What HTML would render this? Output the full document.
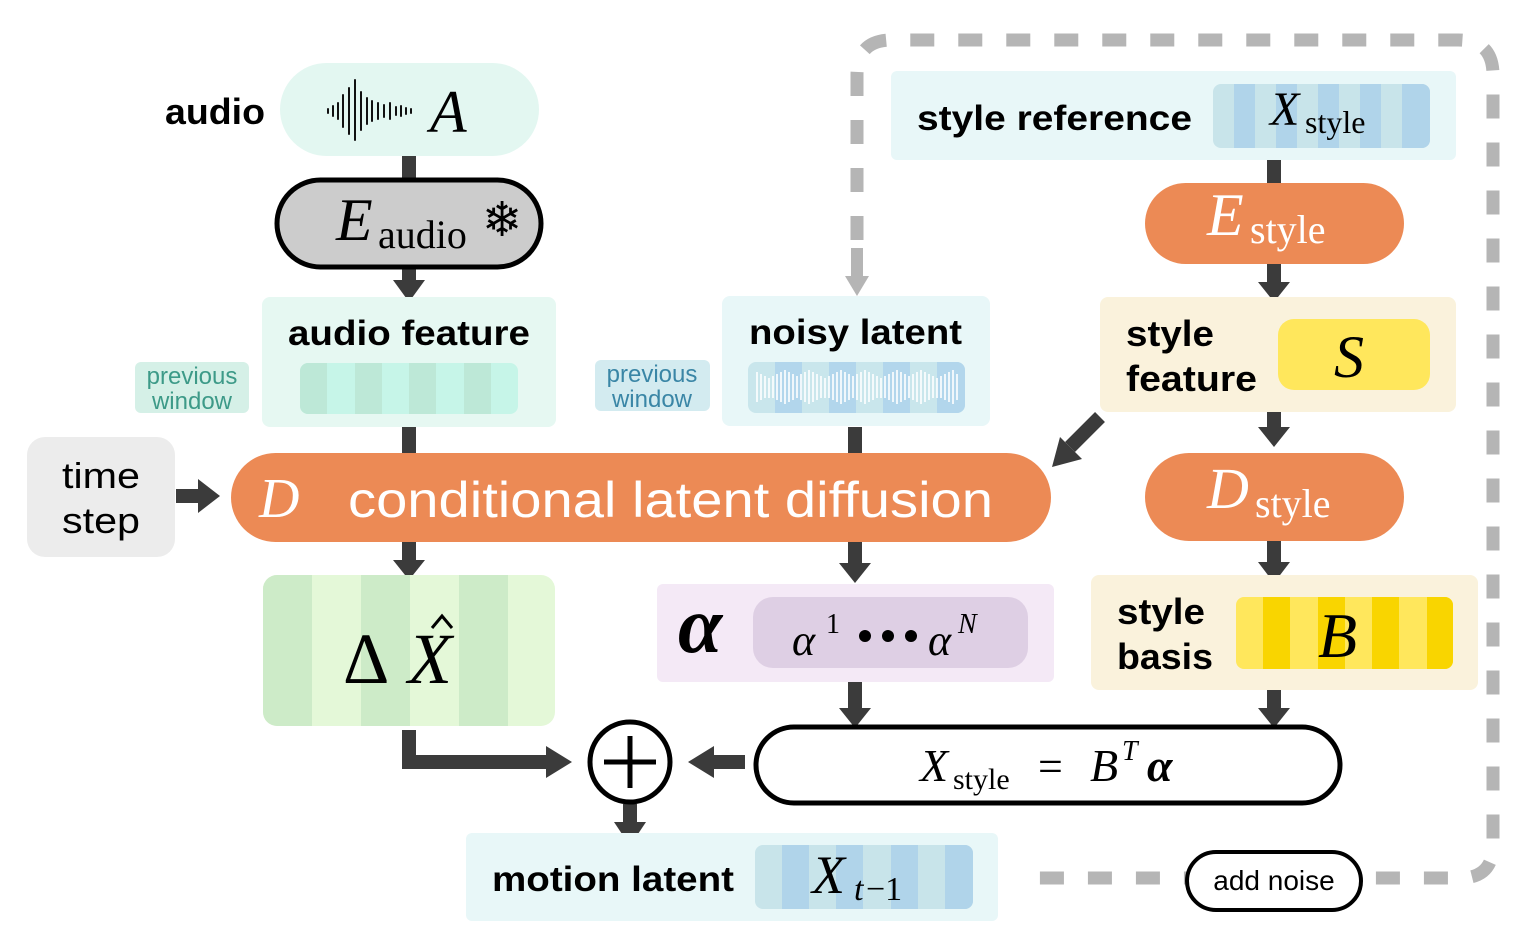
<!DOCTYPE html>
<html><head><meta charset="utf-8"><style>
html,body{margin:0;padding:0;background:#fff}
svg{display:block}
.s{font-family:"Liberation Sans","DejaVu Sans",sans-serif;font-weight:bold}
.n{font-family:"Liberation Sans","DejaVu Sans",sans-serif}
.m{font-family:"Liberation Serif","DejaVu Serif",serif;font-style:italic}
.r{font-family:"Liberation Serif","DejaVu Serif",serif}
</style></head><body>
<svg width="1517" height="925" viewBox="0 0 1517 925" xmlns="http://www.w3.org/2000/svg">
<!-- dashed border -->
<path d="M857,240 L857,75 Q857,40 892,40 L1458,40 Q1493,40 1493,75 L1493,845 Q1493,878 1460,878 L1020,878" fill="none" stroke="#b5b5b5" stroke-width="13" stroke-dasharray="24,24"/>
<path d="M857,248 L857,278" stroke="#b5b5b5" stroke-width="12"/>
<path d="M845,276 L869,276 L857,296 z" fill="#b5b5b5"/>

<!-- connectors -->
<g stroke="#3b3b3b" stroke-width="14" fill="none">
<line x1="409" y1="156" x2="409" y2="180"/>
<line x1="409" y1="268" x2="409" y2="282"/>
<line x1="409" y1="426" x2="409" y2="455"/>
<line x1="409" y1="542" x2="409" y2="563"/>
<line x1="855" y1="427" x2="855" y2="455"/>
<line x1="855" y1="542" x2="855" y2="566"/>
<line x1="1274" y1="158" x2="1274" y2="185"/>
<line x1="1274" y1="264" x2="1274" y2="284"/>
<line x1="1274" y1="412" x2="1274" y2="430"/>
<line x1="1274" y1="540" x2="1274" y2="565"/>
<line x1="855" y1="682" x2="855" y2="712"/>
<line x1="1274" y1="690" x2="1274" y2="712"/>
<path d="M409,730 L409,762 L548,762"/>
<line x1="745" y1="762" x2="712" y2="762"/>
<line x1="630" y1="804" x2="630" y2="825"/>
<line x1="176" y1="496" x2="200" y2="496"/>
<line x1="1100" y1="417" x2="1070" y2="447"/>
</g>
<g fill="#3b3b3b">
<path d="M393,280 L425,280 L409,302 z"/>
<path d="M393,560 L425,560 L409,580 z"/>
<path d="M839,563 L871,563 L855,583 z"/>
<path d="M1258,282 L1290,282 L1274,302 z"/>
<path d="M1258,427 L1290,427 L1274,447 z"/>
<path d="M1258,562 L1290,562 L1274,583 z"/>
<path d="M839,708 L871,708 L855,728 z"/>
<path d="M1258,708 L1290,708 L1274,728 z"/>
<path d="M546,746 L546,778 L572,762 z"/>
<path d="M714,746 L714,778 L688,762 z"/>
<path d="M614,822 L646,822 L630,846 z"/>
<path d="M198,479 L198,513 L220,496 z"/>
<path d="M1052,467 L1060,437 L1082,459 z"/>
</g>

<!-- audio -->
<text x="165" y="124" class="s" font-size="36" textLength="100" lengthAdjust="spacingAndGlyphs">audio</text>
<rect x="280" y="63" width="259" height="93" rx="46.5" fill="#e3f7f1"/>
<g stroke="#111" stroke-width="2" stroke-linecap="round">
<line x1="328" y1="109" x2="328" y2="113"/><line x1="333" y1="106" x2="333" y2="116"/><line x1="338" y1="103" x2="338" y2="119"/><line x1="343" y1="95" x2="343" y2="127"/><line x1="349" y1="88" x2="349" y2="134"/><line x1="355" y1="80" x2="355" y2="140"/><line x1="361" y1="92" x2="361" y2="130"/><line x1="367" y1="98" x2="367" y2="124"/><line x1="372" y1="101" x2="372" y2="121"/><line x1="378" y1="103" x2="378" y2="119"/><line x1="384" y1="105" x2="384" y2="117"/><line x1="390" y1="103" x2="390" y2="119"/><line x1="396" y1="107" x2="396" y2="115"/><line x1="401" y1="106" x2="401" y2="116"/><line x1="406" y1="108" x2="406" y2="114"/><line x1="411" y1="109" x2="411" y2="113"/>
</g>
<text x="430" y="132" class="m" font-size="60">A</text>

<!-- E audio -->
<rect x="277" y="180" width="264" height="87" rx="43.5" fill="#cccccc" stroke="#000" stroke-width="5"/>
<text x="336" y="240" class="m" font-size="60">E</text>
<text x="378" y="248" class="r" font-size="40">audio</text>
<text x="482" y="236" font-size="48" font-family="DejaVu Sans,sans-serif">❄</text>

<!-- audio feature -->
<rect x="262" y="297" width="294" height="130" rx="8" fill="#e6f8f2"/>
<text x="288" y="345" class="s" font-size="35" textLength="242" lengthAdjust="spacingAndGlyphs">audio feature</text>
<clipPath id="c1"><rect x="300" y="363" width="218" height="51" rx="8"/></clipPath>
<g clip-path="url(#c1)">
<rect x="300" y="363" width="218" height="51" fill="#c6f5e8"/>
<rect x="300" y="363" width="27" height="51" fill="#bde8d7"/><rect x="355" y="363" width="27" height="51" fill="#bde8d7"/><rect x="409" y="363" width="27" height="51" fill="#bde8d7"/><rect x="464" y="363" width="27" height="51" fill="#bde8d7"/>
</g>
<rect x="135" y="362" width="114" height="51" rx="6" fill="#d5f0e7"/>
<text x="192" y="384" class="n" font-size="24" fill="#3d9a88" text-anchor="middle">previous</text>
<text x="192" y="409" class="n" font-size="24" fill="#3d9a88" text-anchor="middle">window</text>

<!-- noisy latent -->
<rect x="722" y="296" width="268" height="130" rx="8" fill="#e8f7f8"/>
<text x="749" y="344" class="s" font-size="35" textLength="213" lengthAdjust="spacingAndGlyphs">noisy latent</text>
<clipPath id="c2"><rect x="748" y="362" width="217" height="51" rx="8"/></clipPath>
<g clip-path="url(#c2)">
<rect x="748" y="362" width="217" height="51" fill="#c9e6ec"/>
<rect x="775" y="362" width="27" height="51" fill="#b2d6ec"/><rect x="829" y="362" width="27" height="51" fill="#b2d6ec"/><rect x="883" y="362" width="27" height="51" fill="#b2d6ec"/><rect x="937" y="362" width="28" height="51" fill="#b2d6ec"/>
</g>
<path d="M757,372v30M761,374v26M765,376v22M769,378v20M773,376v22M777,374v26M781,372v30M785,370v34M789,372v30M793,374v26M797,376v22M801,374v26M805,372v30M809,370v34M813,372v30M817,374v26M821,376v22M825,378v20M829,376v22M833,374v26M837,372v30M841,370v34M845,372v30M849,374v26M853,376v22M857,374v26M861,372v30M865,370v34M869,372v30M873,374v26M877,376v22M881,378v20M885,376v22M889,374v26M893,372v30M897,370v34M901,372v30M905,374v26M909,376v22M913,374v26M917,372v30M921,370v34M925,372v30M929,374v26M933,376v22M937,378v20M941,376v22M945,374v26M949,372v30M953,370v34M957,374v26" stroke="#fff" stroke-width="1.6"/>
<rect x="595" y="360" width="115" height="51" rx="6" fill="#d3ebf0"/>
<text x="652" y="382" class="n" font-size="24" fill="#3a86a6" text-anchor="middle">previous</text>
<text x="652" y="407" class="n" font-size="24" fill="#3a86a6" text-anchor="middle">window</text>

<!-- time step -->
<rect x="27" y="437" width="148" height="120" rx="18" fill="#ececec"/>
<text x="62" y="488" class="n" font-size="36" textLength="78" lengthAdjust="spacingAndGlyphs">time</text>
<text x="62" y="533" class="n" font-size="36" textLength="78" lengthAdjust="spacingAndGlyphs">step</text>

<!-- D -->
<rect x="231" y="453" width="820" height="89" rx="44.5" fill="#ec8a55"/>
<text x="259" y="517" class="m" font-size="56" fill="#fff">D</text>
<text x="348" y="517" class="n" font-size="50" fill="#fff" textLength="645" lengthAdjust="spacingAndGlyphs">conditional latent diffusion</text>

<!-- delta X -->
<clipPath id="c3"><rect x="263" y="575" width="292" height="151" rx="14"/></clipPath>
<g clip-path="url(#c3)">
<rect x="263" y="575" width="292" height="151" fill="#e4f8d8"/>
<rect x="263" y="575" width="49" height="151" fill="#cdebc8"/><rect x="361" y="575" width="49" height="151" fill="#cdebc8"/><rect x="459" y="575" width="49" height="151" fill="#cdebc8"/>
</g>
<text x="343" y="683" class="r" font-size="72">Δ</text>
<text x="408" y="683" class="m" font-size="72">X</text>
<path d="M432,628 L442,616 L452,628" fill="none" stroke="#000" stroke-width="3"/>

<!-- alpha -->
<rect x="657" y="584" width="397" height="98" rx="6" fill="#f4e9f6"/>
<text x="678" y="652" class="r" font-size="80" font-weight="bold" font-style="italic">α</text>
<rect x="753" y="597" width="275" height="71" rx="20" fill="#decfe4"/>
<text x="792" y="655" class="m" font-size="44">α</text>
<text x="826" y="633" class="r" font-size="28">1</text>
<circle cx="865" cy="636" r="6" fill="#000"/><circle cx="888" cy="636" r="6" fill="#000"/><circle cx="911" cy="636" r="6" fill="#000"/>
<text x="928" y="655" class="m" font-size="44">α</text>
<text x="958" y="633" class="m" font-size="28">N</text>

<!-- style reference -->
<rect x="891" y="71" width="565" height="89" rx="6" fill="#e8f7f8"/>
<text x="917" y="130" class="s" font-size="35" textLength="275" lengthAdjust="spacingAndGlyphs">style reference</text>
<clipPath id="c4"><rect x="1213" y="84" width="217" height="64" rx="8"/></clipPath>
<g clip-path="url(#c4)">
<rect x="1213" y="84" width="217" height="64" fill="#c8e4ea"/>
<rect x="1234" y="84" width="21" height="64" fill="#b0d4ea"/><rect x="1276" y="84" width="21" height="64" fill="#b0d4ea"/><rect x="1318" y="84" width="21" height="64" fill="#b0d4ea"/><rect x="1360" y="84" width="21" height="64" fill="#b0d4ea"/><rect x="1402" y="84" width="28" height="64" fill="#b0d4ea"/>
</g>
<text x="1270" y="125" class="m" font-size="48">X</text>
<text x="1305" y="133" class="r" font-size="32">style</text>

<!-- E style -->
<rect x="1145" y="183" width="259" height="81" rx="40.5" fill="#ec8a55"/>
<text x="1207" y="235" class="m" font-size="60" fill="#fff">E</text>
<text x="1250" y="243" class="r" font-size="40" fill="#fff">style</text>

<!-- style feature -->
<rect x="1100" y="297" width="356" height="115" rx="8" fill="#faf2dc"/>
<text x="1126" y="346" class="s" font-size="36" textLength="88" lengthAdjust="spacingAndGlyphs">style</text>
<text x="1126" y="391" class="s" font-size="36" textLength="131" lengthAdjust="spacingAndGlyphs">feature</text>
<rect x="1278" y="319" width="152" height="71" rx="16" fill="#ffe75c"/>
<text x="1334" y="377" class="m" font-size="60">S</text>

<!-- D style -->
<rect x="1145" y="453" width="259" height="88" rx="44" fill="#ec8a55"/>
<text x="1207" y="508" class="m" font-size="58" fill="#fff">D</text>
<text x="1255" y="517" class="r" font-size="40" fill="#fff">style</text>

<!-- style basis -->
<rect x="1091" y="575" width="387" height="115" rx="8" fill="#faf2dc"/>
<text x="1117" y="624" class="s" font-size="36" textLength="88" lengthAdjust="spacingAndGlyphs">style</text>
<text x="1117" y="669" class="s" font-size="36" textLength="96" lengthAdjust="spacingAndGlyphs">basis</text>
<clipPath id="c5"><rect x="1236" y="597" width="217" height="72" rx="8"/></clipPath>
<g clip-path="url(#c5)">
<rect x="1236" y="597" width="217" height="72" fill="#ffe75c"/>
<rect x="1263" y="597" width="27" height="72" fill="#f9d500"/><rect x="1318" y="597" width="27" height="72" fill="#f9d500"/><rect x="1372" y="597" width="27" height="72" fill="#f9d500"/><rect x="1427" y="597" width="26" height="72" fill="#f9d500"/>
</g>
<text x="1318" y="657" class="m" font-size="64">B</text>

<!-- equation -->
<rect x="756" y="727" width="584" height="76" rx="38" fill="#fff" stroke="#000" stroke-width="5"/>
<text x="920" y="781" class="m" font-size="46">X</text>
<text x="953" y="789" class="r" font-size="30">style</text>
<text x="1038" y="781" class="r" font-size="44">=</text>
<text x="1090" y="781" class="m" font-size="46">B</text>
<text x="1122" y="760" class="m" font-size="28">T</text>
<text x="1147" y="781" class="r" font-size="46" font-weight="bold" font-style="italic">α</text>

<!-- plus -->
<circle cx="630" cy="762" r="40" fill="#fff" stroke="#000" stroke-width="5"/>
<line x1="604" y1="762" x2="656" y2="762" stroke="#000" stroke-width="5"/>
<line x1="630" y1="736" x2="630" y2="788" stroke="#000" stroke-width="5"/>

<!-- motion latent -->
<rect x="466" y="833" width="532" height="88" rx="6" fill="#e8f7f8"/>
<text x="492" y="891" class="s" font-size="35" textLength="242" lengthAdjust="spacingAndGlyphs">motion latent</text>
<clipPath id="c6"><rect x="755" y="845" width="218" height="64" rx="8"/></clipPath>
<g clip-path="url(#c6)">
<rect x="755" y="845" width="218" height="64" fill="#c8e4ea"/>
<rect x="782" y="845" width="27" height="64" fill="#b0d4ea"/><rect x="836" y="845" width="27" height="64" fill="#b0d4ea"/><rect x="891" y="845" width="27" height="64" fill="#b0d4ea"/><rect x="945" y="845" width="28" height="64" fill="#b0d4ea"/>
</g>
<text x="812" y="893" class="m" font-size="54">X</text>
<text x="854" y="900" class="m" font-size="34">t</text>
<text x="866" y="900" class="r" font-size="34">−1</text>

<!-- add noise -->
<rect x="1187" y="852" width="174" height="58" rx="29" fill="#fff" stroke="#000" stroke-width="4"/>
<text x="1274" y="890" class="n" font-size="28" text-anchor="middle">add noise</text>
</svg>
</body></html>
